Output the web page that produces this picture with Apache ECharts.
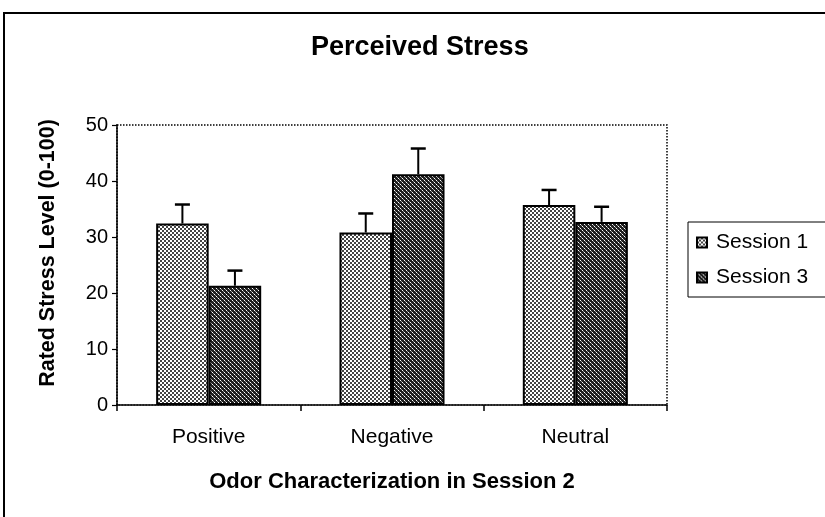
<!DOCTYPE html>
<html><head><meta charset="utf-8">
<script src="https://cdn.jsdelivr.net/npm/echarts@6/dist/echarts.min.js"></script>
<style>html,body{margin:0;padding:0;background:#fff}#c{width:825px;height:517px}</style>
</head><body><div id="c"></div>
<script>
const categories = ['Positive', 'Negative', 'Neutral'];
const session1 = [32.4, 30.8, 35.7];
const session1Err = [3.4, 3.4, 2.7];
const session3 = [21.3, 41.2, 32.7];
const session3Err = [2.7, 4.6, 2.7];
const yTicks = [0, 10, 20, 30, 40, 50];

function makePattern(fn, w, h) {
  const c = document.createElement('canvas');
  c.width = w; c.height = h;
  const ctx = c.getContext('2d');
  ctx.fillStyle = '#fff'; ctx.fillRect(0, 0, w, h);
  fn(ctx);
  return { image: c, repeat: 'repeat' };
}
const pat1 = makePattern(ctx => {
  ctx.fillStyle = '#444';
  ctx.fillRect(0, 0, 2, 2); ctx.fillRect(2, 2, 2, 2);
}, 4, 4);
const pat3 = makePattern(ctx => {
  ctx.fillStyle = '#1e1e1e';
  ctx.fillRect(0, 0, 4, 4);
  ctx.fillStyle = '#fff';
  ctx.fillRect(0, 0, 1, 1); ctx.fillRect(2, 2, 1, 1);
  ctx.fillStyle = '#999';
  ctx.fillRect(1, 1, 1, 1); ctx.fillRect(3, 3, 1, 1);
}, 4, 4);

const FONT = '"Liberation Sans", Arial, sans-serif';
const GAP = 0.427;

function errSeries(values, errs, side) {
  return {
    type: 'custom',
    z: 5,
    silent: true,
    data: categories.map((c, i) => [i, values[i], errs[i]]),
    renderItem: function (params, api) {
      const i = api.value(0);
      const v = api.value(1);
      const e = api.value(2);
      const catW = api.size([1, 0])[0];
      const bw = catW * (1 - GAP) / 2;
      const base = api.coord([i, v]);
      const top = api.coord([i, v + e]);
      const x = base[0] + side * bw / 2;
      const cap = 7.5;
      return {
        type: 'group',
        children: [
          { type: 'line', shape: { x1: x, y1: base[1], x2: x, y2: top[1] }, style: { stroke: '#000', lineWidth: 2 } },
          { type: 'line', shape: { x1: x - cap, y1: top[1], x2: x + cap, y2: top[1] }, style: { stroke: '#000', lineWidth: 2.5 } }
        ]
      };
    }
  };
}

const chart = echarts.init(document.getElementById('c'), null, { renderer: 'canvas' });
chart.setOption({
  animation: false,
  backgroundColor: '#fff',
  textStyle: { fontFamily: FONT },
  title: {
    text: 'Perceived Stress',
    left: 306, top: 29,
    textStyle: { fontFamily: FONT, fontSize: 27, fontWeight: 'bold', color: '#000' }
  },
  graphic: [
    { type: 'rect', shape: { x: 4, y: 13, width: 900, height: 600 }, style: { fill: 'none', stroke: '#000', lineWidth: 2 }, silent: true }
  ],
  legend: {
    orient: 'vertical',
    left: 688, top: 222,
    padding: [10, 40, 9, 8],
    itemGap: 14,
    itemWidth: 10, itemHeight: 10,
    icon: 'rect',
    borderColor: '#000', borderWidth: 1,
    textStyle: { fontFamily: FONT, fontSize: 21, color: '#000', padding: [0, 0, 0, 4] },
    data: ['Session 1', 'Session 3']
  },
  grid: {
    left: 117, right: 158, top: 125, bottom: 112,
    show: true, borderColor: '#000', borderWidth: 1.5, borderType: 'dotted', backgroundColor: 'transparent'
  },
  xAxis: {
    type: 'category',
    data: categories,
    name: 'Odor Characterization in Session 2',
    nameLocation: 'middle', nameGap: 66,
    nameTextStyle: { fontFamily: FONT, fontSize: 22, fontWeight: 'bold', color: '#000' },
    axisLine: { lineStyle: { color: '#000', width: 1.5, type: 'dotted' } },
    axisTick: { show: true, length: 6, lineStyle: { color: '#000', width: 1.5 } },
    axisLabel: { fontFamily: FONT, fontSize: 21, color: '#000', margin: 22 },
    splitLine: { show: false }
  },
  yAxis: {
    type: 'value',
    min: 0, max: 50, interval: 10,
    name: 'Rated Stress Level (0-100)',
    nameLocation: 'middle', nameGap: 58,
    nameTextStyle: { fontFamily: FONT, fontSize: 21.5, fontWeight: 'bold', color: '#000', padding: [0, 0, 0, 24] },
    axisLine: { show: true, lineStyle: { color: '#000', width: 1.5 } },
    axisTick: { show: true, length: 5, lineStyle: { color: '#000', width: 1.2 } },
    axisLabel: { fontFamily: FONT, fontSize: 20, color: '#000', margin: 9,
      formatter: v => yTicks.includes(v) ? String(v) : '' },
    splitLine: { show: false }
  },
  series: [
    { name: 'Session 1', type: 'bar', data: session1, barGap: '0%', barCategoryGap: (GAP * 100) + '%',
      itemStyle: { color: pat1, borderColor: '#000', borderWidth: 2 } },
    { name: 'Session 3', type: 'bar', data: session3, barGap: '0%', barCategoryGap: (GAP * 100) + '%',
      itemStyle: { color: pat3, borderColor: '#000', borderWidth: 2 } },
    errSeries(session1, session1Err, -1),
    errSeries(session3, session3Err, 1)
  ]
});
</script></body></html>
